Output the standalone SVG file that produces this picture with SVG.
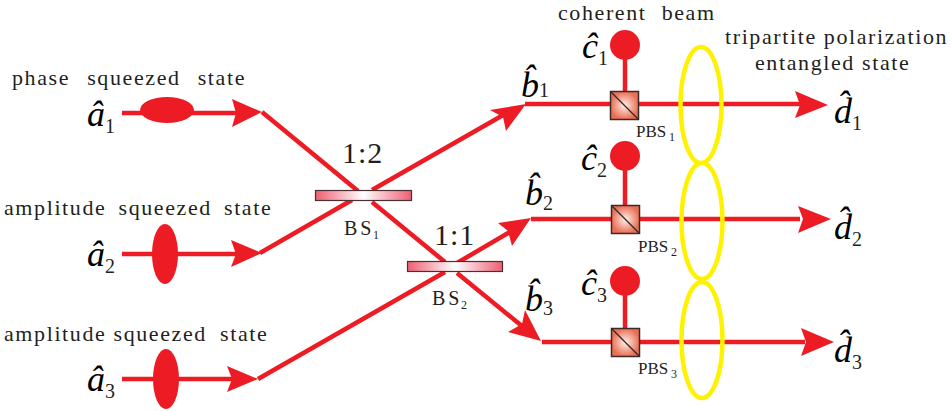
<svg xmlns="http://www.w3.org/2000/svg" width="950" height="411" viewBox="0 0 950 411">
<defs>
<linearGradient id="bs" x1="0" x2="1" y1="0" y2="0"><stop offset="0" stop-color="#ee5f73"/><stop offset="0.5" stop-color="#ffffff"/><stop offset="1" stop-color="#ee5f73"/></linearGradient>
<radialGradient id="pbs"><stop offset="0" stop-color="#fff0e8"/><stop offset="1" stop-color="#ea6f55"/></radialGradient>
</defs>
<style>
.beam{stroke:#ed1c24;stroke-width:4.5;fill:none}
.head,.dot{fill:#ed1c24}
.bs{fill:url(#bs);stroke:#4a3035;stroke-width:1.2}
.pbs{fill:url(#pbs);stroke:#3a2a2a;stroke-width:1.5}
.diag{stroke:#2a2a2a;stroke-width:1.2}
.oval{fill:none;stroke:#fff200;stroke-width:4.5}
text{font-family:"Liberation Serif",serif;fill:#231f20}
.lab{font-size:22px;letter-spacing:1.6px}
.sym{font-size:36px;font-style:italic;fill:#000}
.sub{font-size:20px;font-style:normal;fill:#231f20}
.ratio{font-size:30px;letter-spacing:1px}
.bsl{font-size:20px;letter-spacing:3px}
.bss{font-size:12px}
.pl{font-size:17px}
</style>
<g id="connectors">
<path class="beam" d="M122 113H240"/>
<path class="beam" d="M122 254H240"/>
<path class="beam" d="M122 379H236"/>
<path class="beam" d="M262 112L358 191M372 202L445 262M457 273L528 331"/>
<path class="beam" d="M260 253L352 200M372 190L505 114"/>
<path class="beam" d="M258 379L445 272M457 263L515 229"/>
<path class="beam" d="M525 104H800"/>
<path class="beam" d="M531 219H800"/>
<path class="beam" d="M542 342H805"/>
<path class="beam" d="M625 58V91M625 170V205M625 295V328"/>
<polygon class="head" points="262,112 232,99 236,113 232,127"/>
<polygon class="head" points="262,253 231,240 236,254 231,267"/>
<polygon class="head" points="258,379 227,366 232,379 227,392"/>
<polygon class="head" points="526,104 490,110 503,117 506,131"/>
<polygon class="head" points="531,218 498,223 508,231 512,246"/>
<polygon class="head" points="541,341 525,310 522,324 508,332"/>
<polygon class="head" points="828,105 795,91 800,105 795,118"/>
<polygon class="head" points="831,219 798,206 803,219 798,233"/>
<polygon class="head" points="834,342 801,328 806,342 801,356"/>
</g>
<g id="source-1"><ellipse class="dot" cx="167" cy="110" rx="27" ry="13"/><text class="lab" x="12" y="85" word-spacing="10">phase squeezed state</text><text class="sym" x="87" y="126">â<tspan class="sub" dy="7" dx="0">1</tspan></text></g>
<g id="source-2"><ellipse class="dot" cx="165" cy="254" rx="13" ry="30"/><text class="lab" x="4" y="215" word-spacing="5">amplitude squeezed state</text><text class="sym" x="87" y="266">â<tspan class="sub" dy="7">2</tspan></text></g>
<g id="source-3"><ellipse class="dot" cx="166" cy="379" rx="13" ry="30"/><text class="lab" x="4" y="341">amplitude squeezed<tspan dx="6"> state</tspan></text><text class="sym" x="87" y="391">â<tspan class="sub" dy="7">3</tspan></text></g>
<g id="bs1"><rect class="bs" x="315.500" y="190.500" width="96" height="10"/><text class="ratio" x="342" y="163">1:2</text><text class="bsl" x="344" y="235">BS</text><text class="bss" x="373" y="239">1</text></g>
<g id="bs2"><rect class="bs" x="407.500" y="261.500" width="95" height="10"/><text class="ratio" x="434" y="245">1:1</text><text class="bsl" x="432" y="305">BS</text><text class="bss" x="461" y="309">2</text></g>
<g id="b1"><text class="sym" x="521" y="97">b̂<tspan class="sub" dy="0">1</tspan></text></g>
<g id="b2"><text class="sym" x="525" y="205">b̂<tspan class="sub" dy="5">2</tspan></text></g>
<g id="b3"><text class="sym" x="525" y="311">b̂<tspan class="sub" dy="4">3</tspan></text></g>
<g id="pbs-1"><circle class="dot" cx="625" cy="45" r="15"/><rect class="pbs" x="610.500" y="91.500" width="28" height="28"/><path class="diag" d="M611 92L638 119"/><text class="pl" x="636" y="137">PBS</text><text class="bss" x="669" y="141">1</text><text class="lab" x="558" y="20" word-spacing="8">coherent beam</text><text class="sym" x="582" y="58">ĉ<tspan class="sub" dy="7">1</tspan></text></g>
<g id="pbs-2"><circle class="dot" cx="625" cy="156" r="15"/><rect class="pbs" x="611.500" y="205.500" width="28" height="28"/><path class="diag" d="M612 206L639 233"/><text class="pl" x="638" y="252">PBS</text><text class="bss" x="671" y="256">2</text><text class="sym" x="581" y="170">ĉ<tspan class="sub" dy="7">2</tspan></text></g>
<g id="pbs-3"><circle class="dot" cx="625" cy="281" r="15"/><rect class="pbs" x="611.500" y="328.500" width="28" height="28"/><path class="diag" d="M612 329L639 356"/><text class="pl" x="638" y="374">PBS</text><text class="bss" x="671" y="378">3</text><text class="sym" x="581" y="295">ĉ<tspan class="sub" dy="7">3</tspan></text></g>
<g id="entanglement"><ellipse class="oval" cx="701" cy="105" rx="20.500" ry="58"/><ellipse class="oval" cx="702" cy="221" rx="20.500" ry="58"/><ellipse class="oval" cx="702" cy="340" rx="20.500" ry="58"/><text class="lab" x="725" y="44">tripartite polarization</text><text class="lab" x="755" y="70">entangled state</text></g>
<g id="d1"><text class="sym" x="834" y="123">d̂<tspan class="sub" dy="7">1</tspan></text></g>
<g id="d2"><text class="sym" x="834" y="239">d̂<tspan class="sub" dy="7">2</tspan></text></g>
<g id="d3"><text class="sym" x="834" y="362">d̂<tspan class="sub" dy="7">3</tspan></text></g>
</svg>
